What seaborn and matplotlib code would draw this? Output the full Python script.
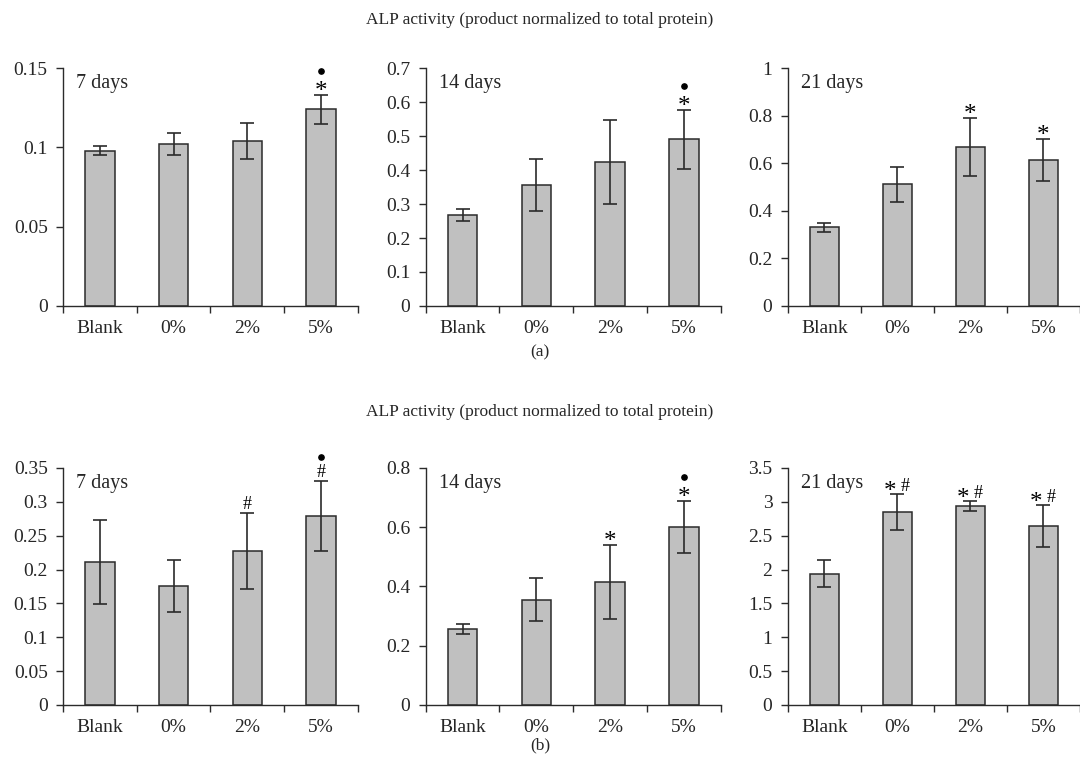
import pandas as pd
import matplotlib.pyplot as plt
import matplotlib.transforms as mtransforms
import seaborn as sns

groups = ["Blank", "0%", "2%", "5%"]

# (a) panels
a7_mean = [0.098, 0.102, 0.104, 0.124]
a7_err = [0.0026, 0.0068, 0.0115, 0.009]
a14_mean = [0.267, 0.356, 0.423, 0.490]
a14_err = [0.017, 0.077, 0.124, 0.087]
a21_mean = [0.331, 0.511, 0.669, 0.613]
a21_err = [0.018, 0.075, 0.122, 0.088]

# (b) panels
b7_mean = [0.211, 0.176, 0.227, 0.279]
b7_err = [0.0625, 0.0385, 0.056, 0.0515]
b14_mean = [0.257, 0.356, 0.414, 0.600]
b14_err = [0.018, 0.074, 0.125, 0.088]
b21_mean = [1.94, 2.85, 2.94, 2.65]
b21_err = [0.197, 0.262, 0.077, 0.31]

# significance marks, bottom to top
a7_marks = [[], [], [], ["*", "•"]]
a14_marks = [[], [], [], ["*", "•"]]
a21_marks = [[], [], ["*"], ["*"]]
b7_marks = [[], [], ["#"], ["#", "•"]]
b14_marks = [[], [], ["*"], ["*", "•"]]
b21_marks = [[], ["*#"], ["*#"], ["*#"]]

days = ["7 days", "14 days", "21 days"]
title = "ALP activity (product normalized to total protein)"

sns.set_style("ticks")
plt.rcParams["font.family"] = ["Liberation Serif", "DejaVu Serif"]

fig = plt.figure(figsize=(10.8, 7.8), dpi=100)

lefts = [0.0583, 0.3942, 0.7294]
widths = [0.2731, 0.2731, 0.2705]
rows = [
    (0.6077, 0.3051,
     [(a7_mean, a7_err, a7_marks, 0.15, 0.05),
      (a14_mean, a14_err, a14_marks, 0.7, 0.1),
      (a21_mean, a21_err, a21_marks, 1.0, 0.2)]),
    (0.0962, 0.3038,
     [(b7_mean, b7_err, b7_marks, 0.35, 0.05),
      (b14_mean, b14_err, b14_marks, 0.8, 0.2),
      (b21_mean, b21_err, b21_marks, 3.5, 0.5)]),
]

ink = "#2b2b2b"
PX = 100 / 72
# glyph: (fontsize, glyph centre above baseline in em)
glyph = {"*": (18, 0.525), "#": (13, 0.33)}
level_px = [10, 24]


def put(ax, ch, x, y, dx_px, centre_px):
    if ch == "•":
        tr = mtransforms.offset_copy(ax.transData, fig=fig, x=dx_px, y=centre_px,
                                     units="dots")
        ax.plot([x], [y], "o", ms=3.8, color="black", transform=tr, clip_on=False)
        return
    fs, frac = glyph[ch]
    dy = (centre_px - frac * fs * PX) / PX
    ax.annotate(ch, xy=(x, y), xytext=(dx_px / PX, dy), textcoords="offset points",
                ha="center", va="baseline", fontsize=fs, color="black")


for bottom, height, panels in rows:
    for k, (mean, err, marks, ymax, step) in enumerate(panels):
        ax = fig.add_axes([lefts[k], bottom, widths[k], height])
        df = pd.DataFrame({"group": groups, "value": mean})
        sns.barplot(data=df, x="group", y="value", ax=ax, width=0.4,
                    color="#c0c0c0", edgecolor=ink, linewidth=1.1,
                    saturation=1, errorbar=None)
        ax.errorbar(range(len(groups)), mean, yerr=err, fmt="none",
                    ecolor=ink, elinewidth=1.2, capsize=5, capthick=1.2)
        for i, mk in enumerate(marks):
            top = mean[i] + err[i]
            for j, m in enumerate(mk):
                if m == "*#":
                    put(ax, "*", i, top, -7, 9)
                    put(ax, "#", i, top, 8, 9)
                else:
                    put(ax, m, i, top, 0, level_px[j])
        ax.set_xlim(-0.5, len(groups) - 0.5)
        ax.set_ylim(0, ymax)
        ticks = [round(j * step, 4) for j in range(int(round(ymax / step)) + 1)]
        ax.set_yticks(ticks, labels=[f"{t:g}" for t in ticks])
        ax.set_xticks([j - 0.5 for j in range(len(groups) + 1)],
                      labels=[""] * (len(groups) + 1))
        ax.set_xticks(range(len(groups)), labels=groups, minor=True)
        ax.tick_params(axis="x", which="minor", length=0, pad=10, labelsize=14)
        ax.tick_params(axis="x", which="major", length=5, width=1, color=ink)
        ax.tick_params(axis="y", length=5, width=1, color=ink, labelsize=14, pad=6)
        ax.set_xlabel("")
        ax.set_ylabel("")
        for s in ["top", "right"]:
            ax.spines[s].set_visible(False)
        for s in ["left", "bottom"]:
            ax.spines[s].set_color(ink)
            ax.spines[s].set_linewidth(1)
        ax.text(0.045, 0.935, days[k], transform=ax.transAxes, ha="left",
                va="center", fontsize=14.5)

fig.text(0.5, 1 - 20 / 780, title, ha="center", va="center", fontsize=12.5)
fig.text(0.5, 1 - 352 / 780, "(a)", ha="center", va="center", fontsize=12.5)
fig.text(0.5, 1 - 412 / 780, title, ha="center", va="center", fontsize=12.5)
fig.text(0.5, 1 - 745 / 780, "(b)", ha="center", va="center", fontsize=12.5)

fig.savefig("out.png", dpi=100)
